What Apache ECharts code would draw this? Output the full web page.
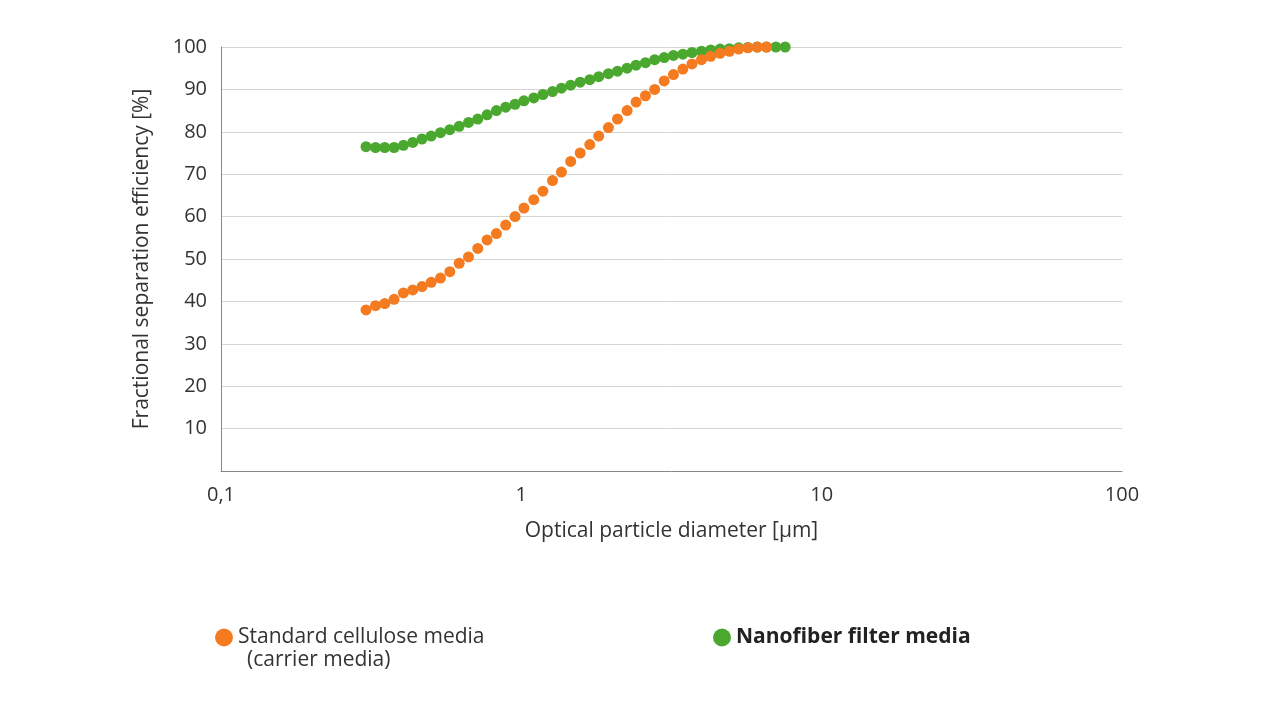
<!DOCTYPE html>
<html><head><meta charset="utf-8">
<script src="https://cdn.jsdelivr.net/npm/echarts@6/dist/echarts.min.js"></script>
<style>html,body{margin:0;background:#fff}#c{width:1280px;height:702px}</style>
</head><body><div id="c"></div>
<script>
const diameters = [0.304,0.327,0.351,0.377,0.405,0.435,0.467,0.501,0.538,0.578,0.621,0.667,0.716,0.769,0.826,0.887,0.953,1.02,1.10,1.18,1.27,1.36,1.46,1.57,1.69,1.81,1.95,2.09,2.25,2.41,2.59,2.78,2.99,3.21,3.45,3.70,3.98,4.27,4.59,4.93,5.29,5.68,6.10,6.55,7.04,7.56,8.12,8.72,9.36,10.1,10.8,11.6,12.4,13.4,14.3,15.4,16.5];
const cellulose = [38,39,39.5,40.5,42,42.7,43.5,44.5,45.5,47,49,50.5,52.5,54.5,56,58,60,62,64,66,68.5,70.5,73,75,77,79,81,83,85,87,88.5,90,92,93.5,94.8,96,97,97.8,98.5,99,99.5,99.8,100,100];
const nanofiber = [76.5,76.3,76.3,76.3,76.8,77.5,78.3,79,79.8,80.5,81.3,82.2,83,84,85,85.8,86.5,87.3,88,88.8,89.5,90.3,91,91.7,92.3,93,93.7,94.3,95,95.7,96.3,97,97.5,98,98.3,98.7,99,99.3,99.5,99.6,99.8,99.9,100,100,100,100,100.1,100.1,100.1,100.2,100.2,100.2,100.2,100.2,100.2,100.2,100.2];
const names = ['Standard cellulose media','Nanofiber filter media'];
const subName = '(carrier media)';
const F = 'Open Sans';
const chart = echarts.init(document.getElementById('c'));
chart.setOption({
  animation:false,
  textStyle:{fontFamily:F},
  grid:{left:221,right:158,top:47,bottom:231},
  xAxis:{type:'log',min:0.1,max:100,logBase:10,
    name:'Optical particle diameter [µm]',nameLocation:'middle',nameGap:50,
    nameTextStyle:{fontSize:21,color:'#333',fontFamily:F},
    axisLine:{lineStyle:{color:'#888'}},axisTick:{show:false},splitLine:{show:false},
    axisLabel:{fontSize:20,color:'#333',margin:14,formatter:v=>String(v).replace('.',',')}},
  yAxis:{type:'value',min:0,max:100,interval:10,
    name:'Fractional separation efficiency [%]',nameLocation:'middle',nameGap:68,
    nameTextStyle:{fontSize:21,color:'#333',fontFamily:F},
    axisLine:{show:true,lineStyle:{color:'#888'}},axisTick:{show:false},
    splitLine:{lineStyle:{color:'#d4d4d4'}},
    axisLabel:{fontSize:20,color:'#333',margin:14,formatter:v=>v===0?'':v}},
  legend:[
    {data:[names[0]],left:210,top:622,icon:'circle',itemWidth:18,itemHeight:18,itemGap:10,
      textStyle:{fontSize:21,color:'#333',fontFamily:F}},
    {data:[names[1]],left:708,top:622,icon:'circle',itemWidth:18,itemHeight:18,itemGap:10,
      textStyle:{fontSize:21,color:'#222',fontWeight:'bold',fontFamily:F}}
  ],
  graphic:[{type:'text',left:247,top:650,style:{text:subName,fontSize:21,fill:'#333',fontFamily:F}}],
  series:[
    {name:names[1],type:'scatter',data:nanofiber.map((v,i)=>[diameters[i],v]),
      symbol:'circle',symbolSize:11,itemStyle:{color:'#4aa82f',opacity:1},z:1},
    {name:names[0],type:'scatter',data:cellulose.map((v,i)=>[diameters[i],v]),
      symbol:'circle',symbolSize:11,itemStyle:{color:'#f47b20',opacity:1},z:2}
  ]
});
</script></body></html>
